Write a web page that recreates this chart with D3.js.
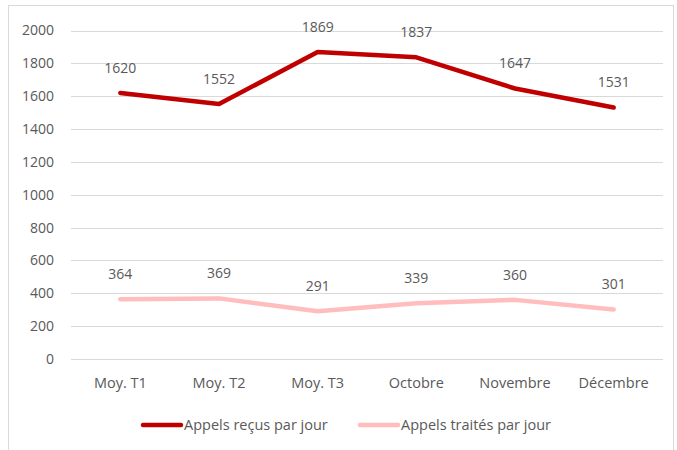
<!DOCTYPE html>
<html>
<head>
<meta charset="utf-8">
<script src="https://cdn.jsdelivr.net/npm/d3@7"></script>
<style>
  body { margin: 0; background: #fff; }
  svg { font-family: "Open Sans", "Liberation Sans", sans-serif; }
</style>
</head>
<body>
<svg id="chart" width="677" height="450"></svg>
<script>
const categories = ['Moy. T1', 'Moy. T2', 'Moy. T3', 'Octobre', 'Novembre', 'Décembre'];
const recus = [1620, 1552, 1869, 1837, 1647, 1531];
const traites = [364, 369, 291, 339, 360, 301];
const yTicks = [0, 200, 400, 600, 800, 1000, 1200, 1400, 1600, 1800, 2000];
const seriesNames = ['Appels reçus par jour', 'Appels traités par jour'];
const seriesColors = ['#c00000', '#ffbdbd'];

const svg = d3.select('#chart');
const textColor = '#595959';

// outer frame
svg.append('rect').attr('x', 8.5).attr('y', 5.5).attr('width', 665).attr('height', 450)
  .attr('fill', 'none').attr('stroke', '#d9d9d9').attr('stroke-width', 1);

const x = d3.scaleBand().domain(categories).range([71, 663]);
const y = d3.scaleLinear().domain([0, 2000]).range([359, 30.5]);

// gridlines
svg.append('g').selectAll('line').data(yTicks).join('line')
  .attr('x1', 71).attr('x2', 663)
  .attr('y1', d => Math.round(y(d)) + 0.5).attr('y2', d => Math.round(y(d)) + 0.5)
  .attr('stroke', '#d9d9d9').attr('stroke-width', 1);

// y axis labels
svg.append('g').selectAll('text').data(yTicks).join('text')
  .attr('x', 54).attr('y', d => y(d)).attr('dy', '0.35em')
  .attr('text-anchor', 'end').attr('fill', textColor).attr('font-size', 14)
  .text(d => d);

// x axis labels
svg.append('g').selectAll('text').data(categories).join('text')
  .attr('x', d => x(d) + x.bandwidth() / 2).attr('y', 383).attr('dy', '0.35em')
  .attr('text-anchor', 'middle').attr('fill', textColor).attr('font-size', 14.5)
  .text(d => d);

const line = d3.line()
  .x((d, i) => x(categories[i]) + x.bandwidth() / 2)
  .y(d => y(d));

[recus, traites].forEach((vals, si) => {
  svg.append('path').datum(vals)
    .attr('d', line).attr('fill', 'none')
    .attr('stroke', seriesColors[si]).attr('stroke-width', 4.5)
    .attr('stroke-linecap', 'round').attr('stroke-linejoin', 'round');
  svg.append('g').selectAll('text').data(vals).join('text')
    .attr('x', (d, i) => x(categories[i]) + x.bandwidth() / 2)
    .attr('y', d => y(d) - 25).attr('dy', '0.35em')
    .attr('text-anchor', 'middle').attr('fill', textColor).attr('font-size', 14)
    .text(d => d);
});

// legend
const legendX = [143, 360];
seriesNames.forEach((name, i) => {
  const lg = svg.append('g').attr('transform', `translate(${legendX[i]},425)`);
  lg.append('line').attr('x1', 0).attr('x2', 38).attr('y1', 0).attr('y2', 0)
    .attr('stroke', seriesColors[i]).attr('stroke-width', 4.5).attr('stroke-linecap', 'round');
  lg.append('text').attr('x', 41).attr('y', 0).attr('dy', '0.35em')
    .attr('fill', textColor).attr('font-size', 14.5).text(name);
});
</script>
</body>
</html>
